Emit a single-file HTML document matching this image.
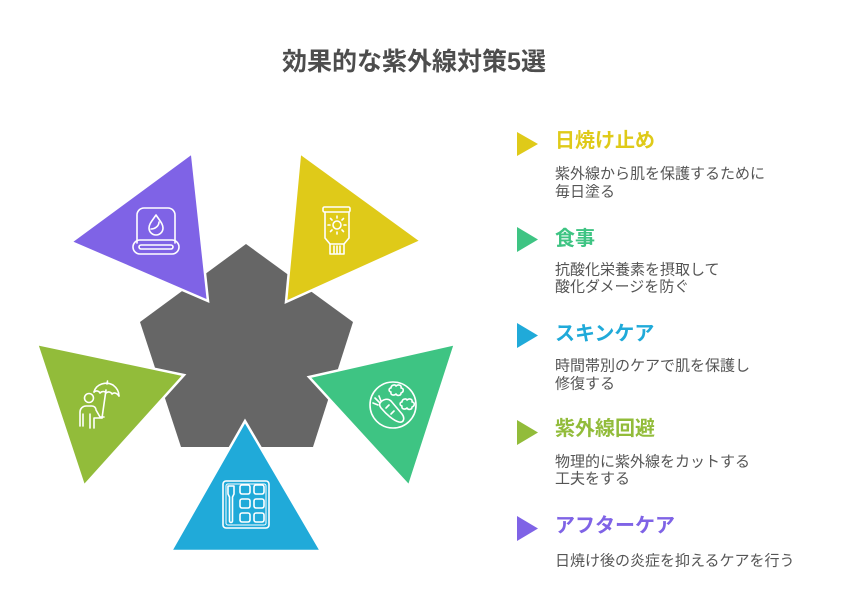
<!DOCTYPE html>
<html>
<head>
<meta charset="utf-8">
<style>
  html, body { margin: 0; padding: 0; background: #ffffff; }
  body { width: 853px; height: 600px; overflow: hidden; }
  svg { display: block; }
  text { font-family: "Liberation Sans", "Noto Sans CJK JP", sans-serif; }
</style>
</head>
<body>
<svg width="853" height="600" viewBox="0 0 853 600" xmlns="http://www.w3.org/2000/svg">
  <rect width="853" height="600" fill="#ffffff"/>

  <!-- Title -->
  <text x="414" y="62" text-anchor="middle" dominant-baseline="central" font-size="25" font-weight="bold" fill="#4d4d4d">効果的な紫外線対策5選</text>

  <!-- Central pentagon -->
  <polygon points="246,244 353,322 313,447 181,447 140,322" fill="#666666"/>

  <!-- Triangles -->
  <polygon points="192,153 71,242 208,301" fill="#7F63E6" stroke="#ffffff" stroke-width="2.5" stroke-linejoin="miter"/>
  <polygon points="300,153 421,241 286,302" fill="#DFCA19" stroke="#ffffff" stroke-width="2.5" stroke-linejoin="miter"/>
  <polygon points="455,344 409,486 309,377" fill="#3EC483" stroke="#ffffff" stroke-width="2.5" stroke-linejoin="miter"/>
  <polygon points="245,421 171,551 321,551" fill="#20AAD9" stroke="#ffffff" stroke-width="2.5" stroke-linejoin="miter"/>
  <polygon points="37,344 84,486 184,375" fill="#92BC3A" stroke="#ffffff" stroke-width="2.5" stroke-linejoin="miter"/>

  <!-- Towel icon (purple) -->
  <g fill="none" stroke="#ffffff" stroke-width="1.6" stroke-linecap="round" stroke-linejoin="round">
    <path d="M137,243 V215 a7,7 0 0 1 7,-7 h24 a7,7 0 0 1 7,7 V243"/>
    <rect x="133" y="240" width="46" height="14" rx="7"/>
    <rect x="139" y="245" width="34" height="4" rx="2"/>
    <path d="M156,215 C152,221 149,224 149,228 a7,7 0 0 0 14,0 C163,224 160,221 156,215 Z"/>
    <path d="M151,229 C155,229 159,226 159,222"/>
  </g>

  <!-- Sunscreen tube icon (yellow) -->
  <g fill="none" stroke="#ffffff" stroke-width="1.6" stroke-linecap="round" stroke-linejoin="round">
    <rect x="323" y="207" width="27" height="5" rx="1.5"/>
    <path d="M325,212 V238 L330,244 V254 H344 V244 L349,238 V212"/>
    <line x1="330" y1="244" x2="344" y2="244"/>
    <line x1="334" y1="246" x2="334" y2="253"/>
    <line x1="337" y1="246" x2="337" y2="253"/>
    <line x1="340" y1="246" x2="340" y2="253"/>
    <circle cx="337" cy="225" r="4"/>
    <line x1="337" y1="216" x2="337" y2="218"/>
    <line x1="337" y1="232" x2="337" y2="234"/>
    <line x1="328" y1="225" x2="330" y2="225"/>
    <line x1="344" y1="225" x2="346" y2="225"/>
    <line x1="330.5" y1="218.5" x2="332" y2="220"/>
    <line x1="342" y1="230" x2="343.5" y2="231.5"/>
    <line x1="343.5" y1="218.5" x2="342" y2="220"/>
    <line x1="332" y1="230" x2="330.5" y2="231.5"/>
  </g>

  <!-- Person with umbrella icon (olive) -->
  <g fill="none" stroke="#ffffff" stroke-width="1.6" stroke-linecap="round" stroke-linejoin="round">
    <circle cx="89" cy="398" r="4.5"/>
    <path d="M80,426 V412 a6,6 0 0 1 6,-6 h6 a4,4 0 0 1 4,4 l4,7 h4"/>
    <path d="M83,426 V414"/>
    <path d="M90,428 V414"/>
    <path d="M94,428 V418 h8"/>
    <path d="M102,418 L106,390"/>
    <path d="M94,392 C96,384 106,381 113,385 C117,388 119,392 119,396"/>
    <path d="M94,392 C96,390 99,391 100,393 C102,391 105,391 106,393 C108,391 111,392 112,394 C114,392 117,393 119,396"/>
    <line x1="107" y1="384" x2="107.5" y2="381"/>
  </g>

  <!-- Palette icon (blue) -->
  <g fill="none" stroke="#ffffff" stroke-width="1.6" stroke-linecap="round" stroke-linejoin="round">
    <rect x="223" y="481" width="46" height="47" rx="3"/>
    <rect x="226" y="484" width="40" height="41" rx="2" stroke-width="1"/>
    <path d="M228,486 h6 v8 l-1.5,3 v24 a1.5,1.5 0 0 1 -3,0 v-24 l-1.5,-3 Z"/>
    <rect x="240" y="485" width="10" height="9" rx="2"/>
    <rect x="254" y="485" width="10" height="9" rx="2"/>
    <rect x="240" y="499" width="10" height="9" rx="2"/>
    <rect x="254" y="499" width="10" height="9" rx="2"/>
    <rect x="240" y="513" width="10" height="9" rx="2"/>
    <rect x="254" y="513" width="10" height="9" rx="2"/>
  </g>

  <!-- Food icon (green) -->
  <g fill="none" stroke="#ffffff" stroke-width="1.6" stroke-linecap="round" stroke-linejoin="round">
    <circle cx="393" cy="405" r="23"/>
    <path d="M380,403 C383,399 388,398 391,401 L402,414 C405,418 404,423 399,422 C394,421 386,414 382,409 C380,407 379,405 380,403 Z"/>
    <path d="M380,403 L375,398"/>
    <path d="M381,401 L379,396"/>
    <path d="M378,405 L373,403"/>
    <path d="M386,408 L389,405"/>
    <path d="M391,414 L394,411"/>
    <path d="M391,388 c0,-3 4,-4 5,-2 c2,-2 6,-1 5,2 c3,0 3,4 0,5 c0,3 -4,3 -5,1 c-2,2 -6,1 -5,-2 c-3,-1 -2,-4 0,-4 Z"/>
    <path d="M402,402 c0,-3 4,-4 5,-2 c2,-2 6,-1 5,2 c3,0 3,4 0,5 c0,3 -4,3 -5,1 c-2,2 -6,1 -5,-2 c-3,-1 -2,-4 0,-4 Z"/>
  </g>

  <!-- Right side list -->
  <!-- 1 -->
  <polygon points="517,132 538,144 517,156" fill="#DFCA19"/>
  <text x="555" y="141" dominant-baseline="central" font-size="20" font-weight="bold" fill="#DFCA19">日焼け止め</text>
  <text x="555" y="174" dominant-baseline="central" font-size="15" fill="#555555">紫外線から肌を保護するために</text>
  <text x="555" y="192" dominant-baseline="central" font-size="15" fill="#555555">毎日塗る</text>

  <!-- 2 -->
  <polygon points="517,227 538,239.5 517,252" fill="#3EC483"/>
  <text x="555" y="239" dominant-baseline="central" font-size="20" font-weight="bold" fill="#3EC483">食事</text>
  <text x="555" y="270" dominant-baseline="central" font-size="15" fill="#555555">抗酸化栄養素を摂取して</text>
  <text x="555" y="287" dominant-baseline="central" font-size="15" fill="#555555">酸化ダメージを防ぐ</text>

  <!-- 3 -->
  <polygon points="517,323 538,335.5 517,348" fill="#20AAD9"/>
  <text x="555" y="334" dominant-baseline="central" font-size="20" font-weight="bold" fill="#20AAD9">スキンケア</text>
  <text x="555" y="366" dominant-baseline="central" font-size="15" fill="#555555">時間帯別のケアで肌を保護し</text>
  <text x="555" y="384" dominant-baseline="central" font-size="15" fill="#555555">修復する</text>

  <!-- 4 -->
  <polygon points="517,420 538,432.5 517,445" fill="#92BC3A"/>
  <text x="555" y="429" dominant-baseline="central" font-size="20" font-weight="bold" fill="#92BC3A">紫外線回避</text>
  <text x="555" y="462" dominant-baseline="central" font-size="15" fill="#555555">物理的に紫外線をカットする</text>
  <text x="555" y="479" dominant-baseline="central" font-size="15" fill="#555555">工夫をする</text>

  <!-- 5 -->
  <polygon points="517,516 538,528.5 517,541" fill="#7F63E6"/>
  <text x="555" y="526" dominant-baseline="central" font-size="20" font-weight="bold" fill="#7F63E6">アフターケア</text>
  <text x="555" y="561" dominant-baseline="central" font-size="15" fill="#555555">日焼け後の炎症を抑えるケアを行う</text>
</svg>
</body>
</html>
